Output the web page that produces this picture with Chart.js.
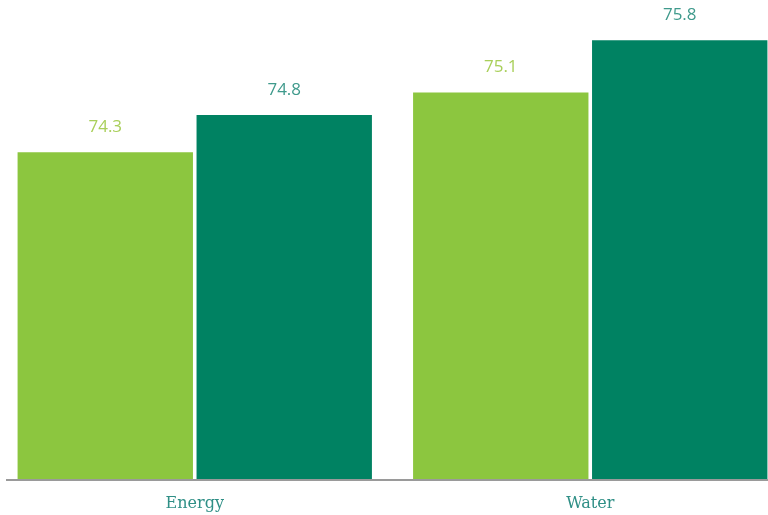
<!DOCTYPE html>
<html>
<head>
<meta charset="utf-8">
<script src="https://cdn.jsdelivr.net/npm/chart.js@4/dist/chart.umd.min.js"></script>
<style>
    html, body { margin: 0; padding: 0; background: #fff; overflow: hidden; }
    #wrap { position: absolute; left: -3px; top: 0; width: 791px; height: 515px; }
</style>
</head>
<body>
<div id="wrap"><canvas id="myChart"></canvas></div>
<script>
// chart data
var categories = ['Energy', 'Water'];
var seriesA = [74.3, 75.1];
var seriesB = [74.8, 75.8];
var seriesNames = ['Series A', 'Series B'];

var lightGreen = '#8cc63f';
var darkGreen = '#008262';

// value labels above each bar
var valueLabels = {
    id: 'valueLabels',
    afterDatasetsDraw: function (chart) {
        var ctx = chart.ctx;
        var colors = ['#a9cf5a', '#3f9a8c'];
        ctx.save();
        ctx.font = '17px "Open Sans"';
        ctx.textAlign = 'center';
        ctx.textBaseline = 'middle';
        chart.data.datasets.forEach(function (ds, i) {
            chart.getDatasetMeta(i).data.forEach(function (bar, j) {
                ctx.fillStyle = colors[i];
                ctx.fillText(ds.data[j].toFixed(1), bar.x, bar.y - 25);
            });
        });
        ctx.restore();
    }
};

// baseline
var baseLine = {
    id: 'baseLine',
    afterDatasetsDraw: function (chart) {
        var ctx = chart.ctx;
        var y = chart.scales.y.getPixelForValue(chart.scales.y.min);
        ctx.save();
        ctx.strokeStyle = '#9a9a9a';
        ctx.lineWidth = 2;
        ctx.beginPath();
        ctx.moveTo(9, y + 1);
        ctx.lineTo(chart.width, y + 1);
        ctx.stroke();
        ctx.restore();
    }
};

var ctx = document.getElementById('myChart').getContext('2d');
var chart = new Chart(ctx, {
    type: 'bar',
    data: {
        labels: categories,
        datasets: [{
            label: seriesNames[0],
            data: seriesA,
            backgroundColor: lightGreen,
            categoryPercentage: 0.905,
            barPercentage: 0.98
        }, {
            label: seriesNames[1],
            data: seriesB,
            backgroundColor: darkGreen,
            categoryPercentage: 0.905,
            barPercentage: 0.98
        }]
    },
    options: {
        responsive: true,
        maintainAspectRatio: false,
        animation: false,
        layout: { padding: 0 },
        plugins: {
            legend: { display: false },
            tooltip: { enabled: false }
        },
        scales: {
            x: {
                grid: { display: false, drawTicks: false },
                border: { display: false },
                ticks: {
                    color: '#2f8f86',
                    font: { family: '"DejaVu Serif"', size: 16 },
                    padding: 15
                },
                afterFit: function (scale) {
                    scale.height = 36;
                }
            },
            y: {
                display: false,
                min: 69.92,
                max: 76.34
            }
        }
    },
    plugins: [valueLabels, baseLine]
});
</script>
</body>
</html>
